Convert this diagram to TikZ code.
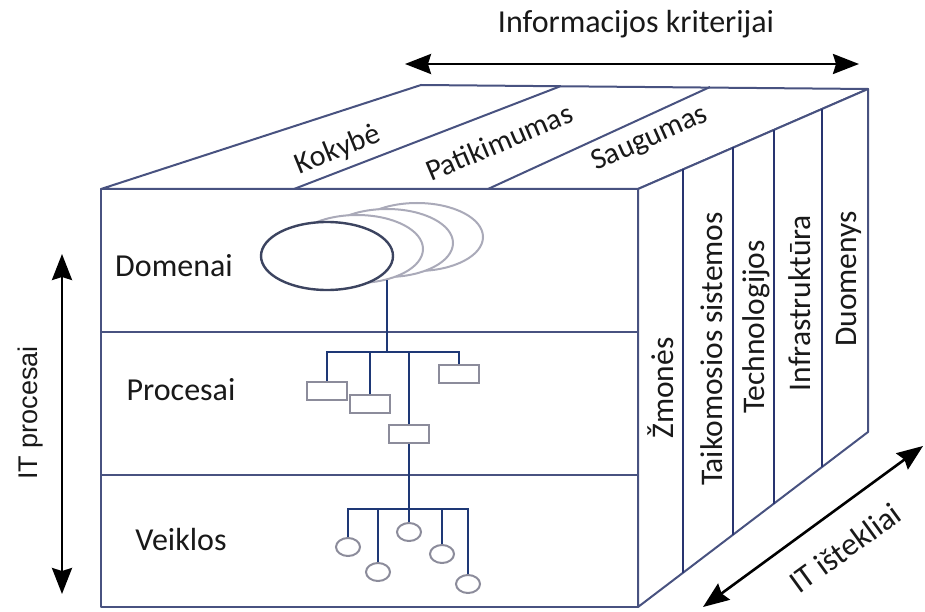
\documentclass[tikz,border=0pt]{standalone}
\usepackage{fontspec}
\setmainfont{Carlito}
\newfontfamily\arialfont{Liberation Sans}
\usetikzlibrary{arrows.meta,shapes.geometric}

\definecolor{cubeline}{RGB}{72,82,128}
\definecolor{stripe}{RGB}{40,52,112}
\definecolor{treeline}{RGB}{30,56,118}
\definecolor{shapegray}{RGB}{140,140,155}
\definecolor{ovalfront}{RGB}{60,68,96}
\definecolor{ovalback}{RGB}{170,170,185}

\begin{document}
\begin{tikzpicture}[x=1pt,y=-1pt,
  cubeedge/.style={draw=cubeline,line width=2pt,line join=round},
  stripeline/.style={draw=stripe,line width=2.4pt},
  tree/.style={draw=treeline,line width=2.8pt},
  procbox/.style={draw=shapegray,line width=2pt,fill=white,minimum width=40pt,minimum height=18pt,inner sep=0pt},
  actdot/.style={draw=shapegray,line width=2pt,fill=white,ellipse,minimum width=24pt,minimum height=18pt,inner sep=0pt},
  oval/.style={ellipse,fill=white,line width=2pt,minimum width=132pt,minimum height=68pt,inner sep=0pt},
  dim/.style={black,line width=2.6pt,
    {Stealth[length=26pt,width=20pt,inset=3pt]}-{Stealth[length=26pt,width=20pt,inset=3pt]}},
  lbl/.style={font=\fontsize{32}{36}\selectfont,text=black!90},
  toplbl/.style={font=\fontsize{30}{34}\selectfont,text=black!90},
  sidelbl/.style={font=\fontsize{31.5}{35}\selectfont,text=black!90,rotate=90}
]
\useasboundingbox (0,0) rectangle (925,612);

% cube corners
\coordinate (ftl) at (101,189);
\coordinate (ftr) at (638,189);
\coordinate (fbl) at (101,607);
\coordinate (fbr) at (638,607);
\coordinate (btl) at (421,85);
\coordinate (btr) at (868,89);
\coordinate (bbr) at (868,432);

% faces
\draw[cubeedge,fill=white] (ftl) -- (ftr) -- (fbr) -- (fbl) -- cycle;
\draw[cubeedge,fill=white] (ftl) -- (btl) -- (btr) -- (ftr) -- cycle;
\draw[cubeedge,fill=white] (ftr) -- (btr) -- (bbr) -- (fbr) -- cycle;

% front face rows
\draw[cubeedge] (101,332) -- (638,332);
\draw[cubeedge] (101,475) -- (638,475);

% top face columns
\draw[cubeedge] (294,189) -- (561,86);
\draw[cubeedge] (488,189) -- (710,87);

% side face columns
\draw[stripeline] (683,169.3) -- (683,572.8);
\draw[stripeline] (733,147.5) -- (733,534.7);
\draw[stripeline] (774,129.6) -- (774,503.5);
\draw[stripeline] (822,108.6) -- (822,467.0);

% labels on the faces
\node[lbl] (dom) at (174,266) {Domenai};
\node[lbl] (proc) at (181,390) {Procesai};
\node[lbl] (veik) at (181,540) {Veiklos};

\node[toplbl,rotate=22] (kok) at (338,150) {Kokybė};
\node[toplbl,rotate=23] (pat) at (499,142) {Patikimumas};
\node[toplbl,rotate=24] (saug) at (650,139) {Saugumas};

\node[sidelbl] (zm) at (661,388) {Žmonės};
\node[sidelbl] (taik) at (712,349) {Taikomosios sistemos};
\node[sidelbl] (tech) at (756,327) {Technologijos};
\node[sidelbl] (infra) at (800,303) {Infrastruktūra};
\node[sidelbl] (duom) at (849,279) {Duomenys};

% domain ovals, back to front
\node[oval,draw=ovalback] (e4) at (417,237) {};
\node[oval,draw=ovalback] (e3) at (387,243) {};
\node[oval,draw=ovalback] (e2) at (357,249) {};
\node[oval,draw=ovalfront,line width=2.4pt] (e1) at (327,256) {};

% process boxes
\node[procbox] (b1) at (327,391) {};
\node[procbox] (b2) at (370,404) {};
\node[procbox] (b3) at (409,434) {};
\node[procbox] (b4) at (459,374) {};

% activity dots
\node[actdot] (c1) at (348,547) {};
\node[actdot] (c2) at (378,572) {};
\node[actdot] (c3) at (409,532) {};
\node[actdot] (c4) at (442,554) {};
\node[actdot] (c5) at (468,584) {};

% tree connectors
\coordinate (trunk) at (387,280);
\coordinate (hub1) at (387,352);
\coordinate (hub2) at (409,509);
\draw[tree] (trunk) -- (hub1);
\draw[tree] (b1.north) |- (hub1) -| (b4.north);
\draw[tree] (b2.north) -- (b2.north|-hub1);
\draw[tree] (b3.north) -- (b3.north|-hub1);
\draw[tree] (b3.south) -- (c3.north);
\draw[tree] (c1.north) |- (hub2) -| (c5.north);
\draw[tree] (c2.north) -- (c2.north|-hub2);
\draw[tree] (c4.north) -- (c4.north|-hub2);

% dimension arrows
\coordinate (ikl) at (405,64);
\coordinate (ikr) at (859,64);
\draw[dim] (ikl) -- (ikr);
\node[font=\fontsize{32}{36}\selectfont,text=black!90] (ik) at (636,24) {Informacijos kriterijai};

\coordinate (ipt) at (62,254);
\coordinate (ipb) at (62,594);
\draw[dim] (ipt) -- (ipb);
\node[font=\arialfont\fontsize{27}{30}\selectfont,text=black!90,rotate=90] (ip) at (31,413) {IT procesai};

\coordinate (isl) at (703,607);
\coordinate (isr) at (923,446);
\draw[dim] (isl) -- (isr);
\node[font=\fontsize{32}{36}\selectfont,text=black!90,rotate=36] (is) at (845,548) {IT ištekliai};

\end{tikzpicture}
\end{document}
